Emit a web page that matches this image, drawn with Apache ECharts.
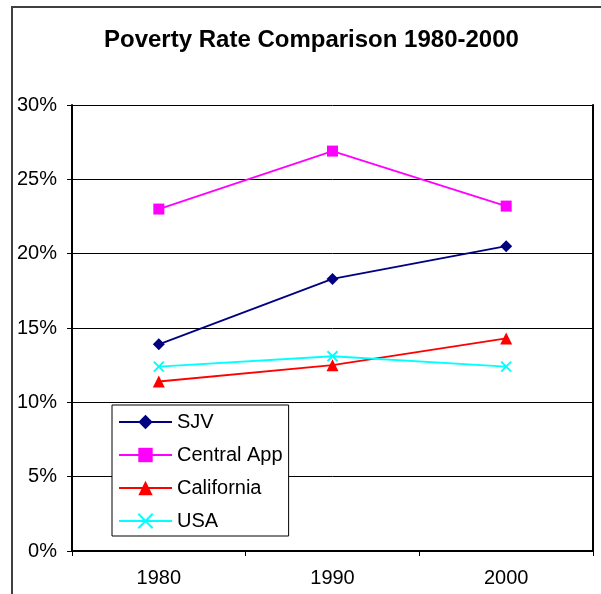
<!DOCTYPE html>
<html>
<head>
<meta charset="utf-8">
<script src="https://cdn.jsdelivr.net/npm/echarts@6/dist/echarts.min.js"></script>
<style>
html,body{margin:0;padding:0;background:#fff;}
#chart{width:601px;height:594px;}
</style>
</head>
<body>
<div id="chart"></div>
<script>
var categories = ['1980', '1990', '2000'];
var sjv = [13.9, 18.3, 20.5];
var centralApp = [23.0, 26.9, 23.2];
var california = [11.4, 12.5, 14.3];
var usa = [12.4, 13.1, 12.4];
var seriesNames = ['SJV', 'Central App', 'California', 'USA'];
var titleText = 'Poverty Rate Comparison 1980-2000';

var FONT = '"Liberation Sans", Arial, sans-serif';
var chart = echarts.init(document.getElementById('chart'), null, {renderer: 'canvas'});

function mkSeries(name, data, color, symbol, size, extraItem) {
  return {
    name: name,
    type: 'line',
    data: data,
    yAxisIndex: 0,
    symbol: symbol,
    symbolSize: size,
    showAllSymbol: true,
    lineStyle: {color: color, width: 1.8},
    itemStyle: Object.assign({color: color, borderWidth: 0}, extraItem || {}),
    emphasis: {disabled: true},
    animation: false,
    z: 5
  };
}

var option = {
  animation: false,
  textStyle: {fontFamily: FONT},
  title: {
    text: titleText,
    left: 104,
    top: 28,
    padding: 0,
    textStyle: {fontFamily: FONT, fontSize: 24, fontWeight: 'bold', color: '#000'}
  },
  graphic: [{
    type: 'rect',
    shape: {x: 12, y: 7, width: 620, height: 620},
    style: {fill: 'none', stroke: '#404040', lineWidth: 2},
    silent: true,
    z: 0
  }],
  legend: {
    orient: 'vertical',
    left: 112,
    top: 405,
    padding: [7, 6, 5, 6],
    itemGap: 13,
    itemWidth: 53,
    itemHeight: 18,
    borderColor: '#000',
    borderWidth: 1,
    backgroundColor: '#fff',
    textStyle: {fontFamily: FONT, fontSize: 20, color: '#000', lineHeight: 20},
    data: seriesNames
  },
  grid: {left: 72, right: 8, top: 105, bottom: 43, containLabel: false},
  xAxis: {
    type: 'category',
    data: categories,
    boundaryGap: true,
    axisLine: {lineStyle: {color: '#000', width: 2}},
    axisTick: {show: true, length: 5, inside: false, alignWithLabel: false, lineStyle: {color: '#000', width: 1}},
    axisLabel: {fontFamily: FONT, fontSize: 20, color: '#000', margin: 17},
    splitLine: {show: false}
  },
  yAxis: [{
    type: 'value',
    min: 0,
    max: 30,
    interval: 5,
    position: 'left',
    axisLine: {show: true, lineStyle: {color: '#000', width: 2}},
    axisTick: {show: true, length: 5, lineStyle: {color: '#000', width: 1}},
    axisLabel: {fontFamily: FONT, fontSize: 20, color: '#000', margin: 15, formatter: '{value}%'},
    splitLine: {show: true, lineStyle: {color: '#000', width: 1}}
  }, {
    type: 'value',
    min: 0,
    max: 30,
    interval: 5,
    position: 'right',
    axisLine: {show: true, onZero: false, lineStyle: {color: '#000', width: 2}},
    axisTick: {show: false},
    axisLabel: {show: false},
    splitLine: {show: false}
  }],
  series: [
    mkSeries(seriesNames[0], sjv, '#000080', 'diamond', 12),
    mkSeries(seriesNames[1], centralApp, '#FF00FF', 'rect', 11),
    mkSeries(seriesNames[2], california, '#FF0000', 'triangle', 12),
    mkSeries(seriesNames[3], usa, '#00FFFF', 'path://M0,0L10,10M10,0L0,10', 10, {borderColor: '#00FFFF', borderWidth: 2, color: 'rgba(0,0,0,0)'})
  ]
};
chart.setOption(option);
</script>
</body>
</html>
